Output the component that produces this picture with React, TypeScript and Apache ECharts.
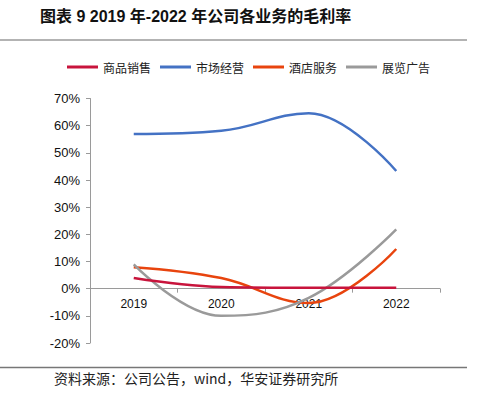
import React, { useEffect, useRef } from "react";
import * as echarts from "echarts";

const years = ["2019", "2020", "2021", "2022"];
const seriesNames = ["商品销售", "市场经营", "酒店服务", "展览广告"];
const salesMargin = [3.9, 0.6, 0.3, 0.3];
const marketMargin = [56.9, 58.1, 64.6, 43.3];
const hotelMargin = [7.9, 3.9, -5.3, 14.6];
const exhibitionMargin = [8.9, -10.0, -3.4, 21.8];
const seriesColors = ["#C8143C", "#4472C4", "#E8440E", "#9A9A9A"];
const yTicks = { min: -20, max: 70, interval: 10 };

const titleText = "图表 9 2019 年-2022 年公司各业务的毛利率";
const sourceText = "资料来源：公司公告，wind，华安证券研究所";

export default function App() {
  const ref = useRef<HTMLDivElement>(null);
  useEffect(() => {
    if (!ref.current) return;
    const chart = echarts.init(ref.current, null, { renderer: "svg" });
    const values = [salesMargin, marketMargin, hotelMargin, exhibitionMargin];
    const gridTop = 98.5;
    const gridBottom = 55;
    const gridH = 398 - gridTop - gridBottom;
    const zeroOffset = (gridH * (0 - yTicks.min)) / (yTicks.max - yTicks.min);
    chart.setOption({
      animation: false,
      backgroundColor: "#ffffff",
      textStyle: { fontFamily: "'Liberation Sans', 'Noto Sans CJK SC', sans-serif" },
      graphic: [
        {
          type: "text",
          left: 40,
          top: 8,
          style: {
            text: titleText,
            font: "bold 16px 'Liberation Sans', 'Noto Sans CJK SC', sans-serif",
            fill: "#111",
          },
        },
        {
          type: "line",
          shape: { x1: 0, y1: 40, x2: 467, y2: 40 },
          style: { stroke: "#9a9a9a", lineWidth: 1.5 },
        },
        {
          type: "line",
          shape: { x1: 0, y1: 367.5, x2: 467, y2: 367.5 },
          style: { stroke: "#777", lineWidth: 1.5 },
        },
        {
          type: "text",
          left: 54,
          top: 371,
          style: {
            text: sourceText,
            font: "14px 'Noto Sans CJK SC', sans-serif",
            fill: "#222",
          },
        },
      ],
      legend: {
        left: 67,
        top: 61,
        padding: 0,
        itemWidth: 31,
        itemHeight: 3,
        itemGap: 9,
        icon: "rect",
        data: seriesNames,
        textStyle: {
          fontSize: 12,
          fontFamily: "'Noto Sans CJK SC', sans-serif",
          color: "#222",
        },
      },
      grid: { left: 90, right: 38, top: gridTop, bottom: gridBottom, containLabel: false },
      xAxis: {
        type: "category",
        data: years,
        boundaryGap: true,
        offset: -zeroOffset,
        axisLine: { onZero: false, lineStyle: { color: "#9a9a9a", width: 1 } },
        axisTick: { show: true, length: 4, alignWithLabel: false, lineStyle: { color: "#9a9a9a" } },
        axisLabel: { color: "#111", fontSize: 12, margin: 9 },
        splitLine: { show: false },
      },
      yAxis: {
        type: "value",
        min: yTicks.min,
        max: yTicks.max,
        interval: yTicks.interval,
        axisLine: { show: true, lineStyle: { color: "#9a9a9a", width: 1 } },
        axisTick: { show: true, length: 4, lineStyle: { color: "#9a9a9a" } },
        axisLabel: { color: "#111", fontSize: 13, margin: 10, formatter: "{value}%" },
        splitLine: { show: false },
      },
      series: seriesNames.map((name, i) => ({
        name,
        type: "line",
        data: values[i],
        smooth: 0.4,
        symbol: "none",
        color: seriesColors[i],
        lineStyle: { color: seriesColors[i], width: 2.5 },
        z: i === 0 ? 5 : 3,
      })),
    });
    return () => chart.dispose();
  }, []);
  return (
    <div
      ref={ref}
      style={{ position: "fixed", left: 0, top: 0, width: 478, height: 398, background: "#fff" }}
    />
  );
}
